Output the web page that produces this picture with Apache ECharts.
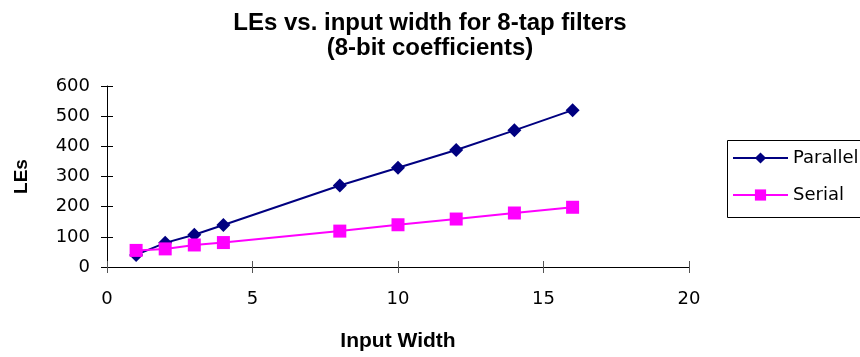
<!DOCTYPE html>
<html>
<head>
<meta charset="utf-8">
<script src="https://cdn.jsdelivr.net/npm/echarts@6/dist/echarts.min.js"></script>
<style>
html,body{margin:0;padding:0;background:#fff;}
#chart{width:860px;height:357px;}
</style>
</head>
<body>
<div id="chart"></div>
<script>
const inputWidths = [1, 2, 3, 4, 8, 10, 12, 14, 16];
const parallelLEs = [40, 80, 107, 139, 270, 329, 388, 453, 520];
const serialLEs = [55, 60, 73, 81, 119, 140, 159, 179, 198];
const seriesNames = ['Parallel', 'Serial'];
const titleLines = ['LEs vs. input width for 8-tap filters', '(8-bit coefficients)'];
const xAxisTitle = 'Input Width';
const yAxisTitle = 'LEs';

const BOLD_FONT = '"Liberation Sans", Arial, sans-serif';
const REG_FONT = '"DejaVu Sans", sans-serif';
const chart = echarts.init(document.getElementById('chart'), null, {renderer: 'canvas'});

function pairs(xs, ys) { return xs.map((x, i) => [x, ys[i]]); }

const xBase = {type: 'value', min: 0, max: 20, interval: 5, position: 'bottom'};
const yBase = {type: 'value', min: 0, max: 600, interval: 100, position: 'left'};

chart.setOption({
  backgroundColor: '#ffffff',
  animation: false,
  title: {
    text: titleLines.join('\n'),
    left: 'center',
    top: 11,
    padding: 0,
    textStyle: {fontFamily: BOLD_FONT, fontSize: 24, fontWeight: 'bold', color: '#000', lineHeight: 25}
  },
  graphic: [{
    type: 'rect',
    left: 725,
    top: 138,
    shape: {width: 200, height: 77},
    style: {fill: 'none', stroke: '#000', lineWidth: 1},
    z: 0,
    silent: true
  }],
  legend: {
    data: seriesNames,
    orient: 'vertical',
    left: 725,
    top: 138,
    padding: [11, 10, 11, 7],
    itemWidth: 55,
    itemHeight: 14,
    itemGap: 19,
    borderWidth: 0,
    textStyle: {fontFamily: REG_FONT, fontSize: 18, color: '#000'}
  },
  grid: {left: 107, right: 171, top: 86, bottom: 89, containLabel: false},
  xAxis: [
    Object.assign({}, xBase, {
      name: xAxisTitle,
      nameLocation: 'middle',
      nameGap: 64,
      nameTextStyle: {fontFamily: BOLD_FONT, fontSize: 21, fontWeight: 'bold', color: '#000'},
      axisLine: {show: true, lineStyle: {color: '#000', width: 1}},
      axisTick: {show: true, inside: false, length: 6, lineStyle: {color: '#555'}},
      axisLabel: {fontFamily: REG_FONT, fontSize: 18, color: '#000', margin: 23},
      splitLine: {show: false}
    }),
    Object.assign({}, xBase, {
      axisLine: {show: false},
      axisTick: {show: true, inside: true, length: 6, lineStyle: {color: '#555'}},
      axisLabel: {show: false},
      splitLine: {show: false}
    })
  ],
  yAxis: [
    Object.assign({}, yBase, {
      name: yAxisTitle,
      nameLocation: 'middle',
      nameRotate: 90,
      nameGap: 76,
      nameTextStyle: {fontFamily: BOLD_FONT, fontSize: 19, fontWeight: 'bold', color: '#000'},
      axisLine: {show: true, lineStyle: {color: '#000', width: 1}},
      axisTick: {show: true, inside: false, length: 6, lineStyle: {color: '#000'}},
      axisLabel: {fontFamily: REG_FONT, fontSize: 18, color: '#000', margin: 17},
      splitLine: {show: false}
    }),
    Object.assign({}, yBase, {
      axisLine: {show: false},
      axisTick: {show: true, inside: true, length: 6, lineStyle: {color: '#000'}},
      axisLabel: {show: false},
      splitLine: {show: false}
    })
  ],
  series: [
    {
      name: seriesNames[0],
      type: 'line',
      xAxisIndex: 0, yAxisIndex: 0,
      data: pairs(inputWidths, parallelLEs),
      symbol: 'diamond',
      symbolSize: 14,
      showAllSymbol: true,
      lineStyle: {color: '#000080', width: 2},
      itemStyle: {color: '#000080'},
      z: 2
    },
    {
      name: seriesNames[1],
      type: 'line',
      xAxisIndex: 0, yAxisIndex: 0,
      data: pairs(inputWidths, serialLEs),
      symbol: 'rect',
      symbolSize: 13,
      showAllSymbol: true,
      lineStyle: {color: '#FF00FF', width: 2},
      itemStyle: {color: '#FF00FF'},
      z: 3
    }
  ]
});
</script>
</body>
</html>
